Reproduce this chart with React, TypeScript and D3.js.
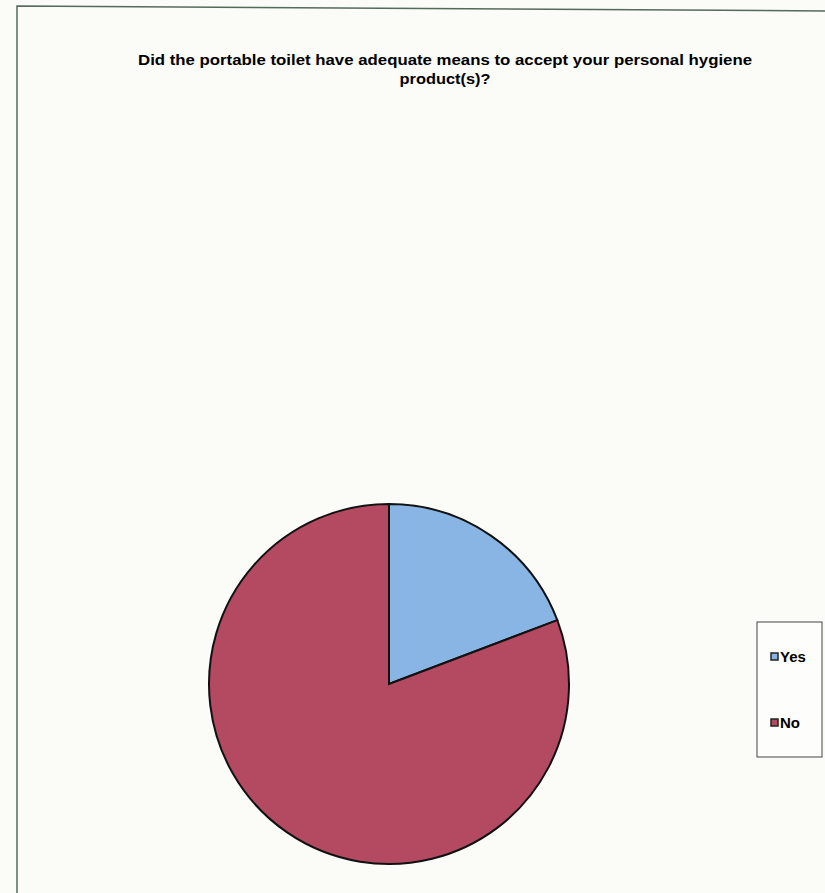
import React from "react";
import * as d3 from "d3";

const categories = ["Yes", "No"];
const values = [5, 21];
const colors = ["#88b5e3", "#b44a62"];
const titleLines = [
  "Did the portable toilet have adequate means to accept your personal hygiene",
  "product(s)?",
];

export default function App() {
  const W = 825, H = 893;
  const cx = 389, cy = 684, r = 180;
  const pie = d3.pie<number>().sort(null).value((d) => d)(values);
  const arc = d3.arc<d3.PieArcDatum<number>>().innerRadius(0).outerRadius(r);
  const legendY = d3.scalePoint<string>().domain(categories).range([657, 723]);
  return (
    <svg
      width={W}
      height={H}
      style={{ position: "absolute", left: 0, top: 0, background: "#fbfbf8" }}
    >
      <rect x={0} y={0} width={W} height={H} fill="#fbfbf8" />
      <path d={`M17,${H} L17,6 L${W},11`} fill="none" stroke="#556b5a" strokeWidth={1.5} />
      <g fontFamily="Liberation Sans, Arial, sans-serif" fontWeight="bold" fontSize={15} fill="#000" textAnchor="middle">
        <text x={445} y={65} textLength={614} lengthAdjust="spacingAndGlyphs">{titleLines[0]}</text>
        <text x={445} y={84} textLength={91} lengthAdjust="spacingAndGlyphs">{titleLines[1]}</text>
      </g>
      <g transform={`translate(${cx},${cy})`}>
        {pie.map((p, i) => (
          <path key={i} d={arc(p) || ""} fill={colors[i]} stroke="#111" strokeWidth={2} />
        ))}
      </g>
      <rect x={757} y={622} width={65} height={135} fill="#fdfdfb" stroke="#444" strokeWidth={1} />
      {categories.map((c, i) => (
        <g key={c}>
          <rect x={771} y={legendY(c)! - 4} width={7} height={7} fill={colors[i]} stroke="#222" strokeWidth={1.5} />
          <text x={780} y={legendY(c)! + 5} fontFamily="Liberation Sans, Arial, sans-serif" fontWeight="bold" fontSize={15} fill="#000">{c}</text>
        </g>
      ))}
    </svg>
  );
}
